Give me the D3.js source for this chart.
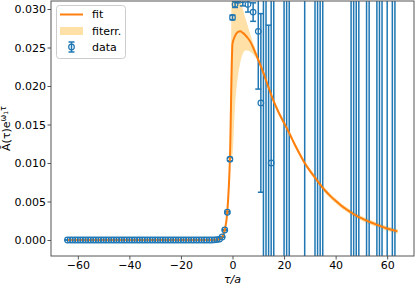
<!DOCTYPE html>
<html>
<head>
<meta charset="utf-8">
<script src="https://cdn.jsdelivr.net/npm/d3@7"></script>
<style>
  body { margin: 0; background: #fff; }
  svg { display: block; font-family: "DejaVu Sans", sans-serif; }
</style>
</head>
<body>
<script>
// correlator ratio: data points with errors, plus the fit and its error band
var width = 415;
var height = 289;

var margin = {top: 1, left: 51, right: 1, bottom: 33};

// data points, tau = -64 .. 63
var dataTau = d3.range(-64, 64);
var dataVal = [
  0, 0, 0, 0, 0, 0, 0, 0, 0, 0,
  0, 0, 0, 0, 0, 0, 0, 0, 0, 0,
  0, 0, 0, 0, 0, 0, 0, 0, 0, 0,
  0, 0, 0, 0, 0, 0, 0, 0, 0, 0,
  0, 0, 0, 0, 0, 0, 0, 0, 0, 0,
  0, 0, 0, 0, 0, 0, 0,
  0.00002, 0.00005, 0.00012, 0.0004, 0.0013, 0.0036, 0.0105,
  0.0289, 0.0306, 0.0313, 0.0319, 0.0312, 0.0321, 0.0306, 0.0331, 0.0296, 0.0345, 0.0271,
  0.0178, 0.062, -0.035, -0.021, 0.0100, 0.048, 0.09, -0.08, 0.11, 0.035,
  -0.04, 0.06, -0.15, 0.16, 0.22, -0.19, 0.2, 0.09, -0.28, 0.3,
  -0.3, 0.05, -0.1, 0.12, -0.05, 0.35, -0.33, 0.4, -0.38, 0.45,
  -0.42, 0.5, -0.46, 0.55, 0.6, 0.1, -0.15, 0.2, -0.05, 0.7,
  -0.66, 0.12, -0.2, 0.75, -0.8, 0.3, -0.1, 0.25, 0.9, -0.2,
  -0.95, 0.15, 0.3
];
var dataErr = [
  0, 0, 0, 0, 0, 0, 0, 0, 0, 0,
  0, 0, 0, 0, 0, 0, 0, 0, 0, 0,
  0, 0, 0, 0, 0, 0, 0, 0, 0, 0,
  0, 0, 0, 0, 0, 0, 0, 0, 0, 0,
  0, 0, 0, 0, 0, 0, 0, 0, 0, 0,
  0, 0, 0, 0, 0, 0, 0,
  0.00001, 0.00001, 0.00002, 0.00004, 0.00008, 0.0001, 0.0002,
  0.0003, 0.0004, 0.0005, 0.0006, 0.0008, 0.0009, 0.001, 0.0015, 0.0012, 0.003, 0.0075,
  0.0116, 0.07, 0.075, 0.0489, 0.06, 0.066, 0.04, 0.05, 0.06, 0.08,
  0.09, 0.1, 0.1, 0.1, 0.12, 0.13, 0.1, 0.14, 0.15, 0.2,
  0.18, 0.2, 0.2, 0.2, 0.21, 0.2, 0.22, 0.25, 0.24, 0.3,
  0.3, 0.35, 0.32, 0.4, 0.45, 0.3, 0.3, 0.35, 0.3, 0.5,
  0.5, 0.3, 0.4, 0.6, 0.6, 0.5, 0.3, 0.4, 0.7, 0.4,
  0.7, 0.4, 0.5
];

// fit curve and its band
var fitTau = [-64, -20, -10, -8, -7, -6, -5, -4, -3, -2, -1, 0, 1, 2, 3, 4, 5, 6, 7, 8, 9, 10,
  12, 14, 16, 18, 20, 22, 24, 26, 28, 30, 32, 34, 36, 38, 40, 42, 44, 46, 48, 50,
  52, 54, 56, 58, 60, 62, 64];
var fitVal = [0, 0, 0.000003, 0.00001, 0.00002, 0.00005, 0.00012, 0.0004, 0.0013, 0.0037, 0.0105,
  0.0255, 0.0265, 0.0270, 0.0271, 0.0269, 0.0266, 0.0262, 0.0257, 0.0250, 0.0242, 0.0234,
  0.0217, 0.0198, 0.0180, 0.0165, 0.0152, 0.0139, 0.0125, 0.0112, 0.0100, 0.0090,
  0.0081, 0.0072, 0.0064, 0.0057, 0.00508, 0.00452, 0.00402, 0.00357, 0.00318, 0.00283,
  0.00252, 0.00224, 0.00198, 0.00172, 0.00150, 0.00130, 0.00112];
var fitLo = [0, 0, 0.000003, 0.00001, 0.00002, 0.00005, 0.00011, 0.00038, 0.00125, 0.0036, 0.0103,
  0.0110, 0.0175, 0.0210, 0.0230, 0.0242, 0.0246, 0.0246, 0.0244, 0.0241, 0.0237, 0.0230,
  0.0213, 0.0195, 0.0177, 0.0162, 0.0149, 0.0136, 0.0122, 0.0109, 0.0097, 0.0087,
  0.0078, 0.0069, 0.0061, 0.0054, 0.00478, 0.00422, 0.00372, 0.00327, 0.00288, 0.00253,
  0.00222, 0.00194, 0.00168, 0.00142, 0.00120, 0.00100, 0.00082];
var fitHi = [0, 0, 0.000003, 0.00001, 0.00002, 0.00005, 0.00013, 0.00042, 0.00135, 0.0038, 0.0107,
  0.0400, 0.0360, 0.0335, 0.0315, 0.0300, 0.0288, 0.0277, 0.0266, 0.0256, 0.0247, 0.0238,
  0.0221, 0.0201, 0.0183, 0.0168, 0.0155, 0.0142, 0.0128, 0.0115, 0.0103, 0.0093,
  0.0084, 0.0075, 0.0067, 0.0060, 0.00538, 0.00482, 0.00432, 0.00387, 0.00348, 0.00313,
  0.00282, 0.00254, 0.00228, 0.00202, 0.00180, 0.00160, 0.00142];

var xTicks = [-60, -40, -20, 0, 20, 40, 60];
var yTicks = [0, 0.005, 0.010, 0.015, 0.020, 0.025, 0.030];

var blue = "#1f77b4";
var orange = "#ff7f0e";
var bandColor = "#ffe0a6";

var svg = d3.select("body")
  .append("svg")
  .attr("width", width)
  .attr("height", height);

var xScale = d3.scaleLinear()
  .domain([-70.4, 70.4])
  .range([margin.left, width - margin.right]);

var yScale = d3.scaleLinear()
  .domain([-0.00208, 0.03104])
  .range([height - margin.bottom, margin.top]);

svg.append("clipPath")
  .attr("id", "plotclip")
  .append("rect")
  .attr("x", margin.left)
  .attr("y", margin.top)
  .attr("width", width - margin.left - margin.right)
  .attr("height", height - margin.top - margin.bottom);

var plot = svg.append("g").attr("clip-path", "url(#plotclip)");

var fitData = fitTau.map(function(t, i) {
  return {t: t, v: fitVal[i], lo: fitLo[i], hi: fitHi[i]};
});
var pts = dataTau.map(function(t, i) {
  return {t: t, v: dataVal[i], e: dataErr[i]};
});

// error band
plot.append("path")
  .datum(fitData)
  .attr("fill", bandColor)
  .attr("d", d3.area()
    .curve(d3.curveMonotoneX)
    .x(function(d) { return xScale(d.t); })
    .y0(function(d) { return yScale(d.lo); })
    .y1(function(d) { return yScale(d.hi); }));

// error bars
var bars = plot.append("g")
  .attr("stroke", blue)
  .attr("stroke-width", 1.5);

bars.selectAll("line.bar")
  .data(pts)
  .enter()
  .append("line")
  .attr("class", "bar")
  .attr("x1", function(d) { return xScale(d.t); })
  .attr("x2", function(d) { return xScale(d.t); })
  .attr("y1", function(d) { return yScale(d.v - d.e); })
  .attr("y2", function(d) { return yScale(d.v + d.e); });

bars.selectAll("line.cap")
  .data(pts.flatMap(function(d) { return [d.v - d.e, d.v + d.e].map(function(y) { return {t: d.t, y: y}; }); }))
  .enter()
  .append("line")
  .attr("class", "cap")
  .attr("x1", function(d) { return xScale(d.t) - 3; })
  .attr("x2", function(d) { return xScale(d.t) + 3; })
  .attr("y1", function(d) { return yScale(d.y); })
  .attr("y2", function(d) { return yScale(d.y); });

// fit line
plot.append("path")
  .datum(fitData)
  .attr("fill", "none")
  .attr("stroke", orange)
  .attr("stroke-width", 2)
  .attr("d", d3.line()
    .curve(d3.curveMonotoneX)
    .x(function(d) { return xScale(d.t); })
    .y(function(d) { return yScale(d.v); }));

// data markers
plot.selectAll("circle")
  .data(pts)
  .enter()
  .append("circle")
  .attr("cx", function(d) { return xScale(d.t); })
  .attr("cy", function(d) { return yScale(d.v); })
  .attr("r", 2.8)
  .attr("fill", "none")
  .attr("stroke", blue)
  .attr("stroke-width", 1.2);

// axes
var xAxis = svg.append("g")
  .attr("transform", "translate(0," + (height - margin.bottom) + ")")
  .call(d3.axisBottom(xScale).tickValues(xTicks).tickSize(3.5).tickPadding(2).tickFormat(d3.format("d")));

var yAxis = svg.append("g")
  .attr("transform", "translate(" + margin.left + ",0)")
  .call(d3.axisLeft(yScale).tickValues(yTicks).tickSize(3.5).tickPadding(1.5).tickFormat(d3.format(".3f")));

[xAxis, yAxis].forEach(function(a) {
  a.select(".domain").remove();
  a.selectAll("line").attr("stroke", "#555");
  a.selectAll("text").attr("font-size", 11).attr("fill", "#000").attr("font-family", "DejaVu Sans");
});

// frame
svg.append("rect")
  .attr("x", margin.left)
  .attr("y", margin.top)
  .attr("width", width - margin.left - margin.right)
  .attr("height", height - margin.top - margin.bottom)
  .attr("fill", "none")
  .attr("stroke", "#555")
  .attr("stroke-width", 1);

// axis labels
svg.append("text")
  .attr("x", xScale(0))
  .attr("y", 283)
  .attr("text-anchor", "middle")
  .attr("font-size", 11)
  .attr("font-style", "italic")
  .text("τ/a");

var yl = svg.append("text")
  .attr("transform", "translate(10," + ((margin.top + height - margin.bottom) / 2) + ") rotate(-90)")
  .attr("text-anchor", "middle")
  .attr("font-size", 11);
yl.append("tspan").text("Ā(τ)e");
yl.append("tspan").attr("dy", -4).attr("font-size", 8).text("ω");
yl.append("tspan").attr("dy", 1.5).attr("font-size", 6).text("1");
yl.append("tspan").attr("dy", -1.5).attr("font-size", 8).text("τ");

// legend
var lg = svg.append("g");
lg.append("rect")
  .attr("x", 56.5).attr("y", 5.5)
  .attr("width", 69).attr("height", 53)
  .attr("rx", 3)
  .attr("fill", "#fff").attr("fill-opacity", 0.85)
  .attr("stroke", "#ccc");
lg.append("line")
  .attr("x1", 60).attr("x2", 83).attr("y1", 14.5).attr("y2", 14.5)
  .attr("stroke", orange).attr("stroke-width", 2);
lg.append("rect")
  .attr("x", 60).attr("y", 27).attr("width", 23).attr("height", 8)
  .attr("fill", bandColor);
lg.append("line")
  .attr("x1", 71.5).attr("x2", 71.5).attr("y1", 42).attr("y2", 52)
  .attr("stroke", blue).attr("stroke-width", 1.5);
lg.append("line")
  .attr("x1", 68.5).attr("x2", 74.5).attr("y1", 42).attr("y2", 42)
  .attr("stroke", blue).attr("stroke-width", 1.5);
lg.append("line")
  .attr("x1", 68.5).attr("x2", 74.5).attr("y1", 52).attr("y2", 52)
  .attr("stroke", blue).attr("stroke-width", 1.5);
lg.append("circle")
  .attr("cx", 71.5).attr("cy", 47).attr("r", 2.8)
  .attr("fill", "none").attr("stroke", blue).attr("stroke-width", 1.2);
var legendLabels = ["fit", "fiterr.", "data"];
lg.selectAll("text.lab")
  .data(legendLabels)
  .enter()
  .append("text")
  .attr("class", "lab")
  .attr("x", 92)
  .attr("y", function(d, i) { return 18 + i * 16.5; })
  .attr("font-size", 11)
  .text(function(d) { return d; });
</script>
</body>
</html>
